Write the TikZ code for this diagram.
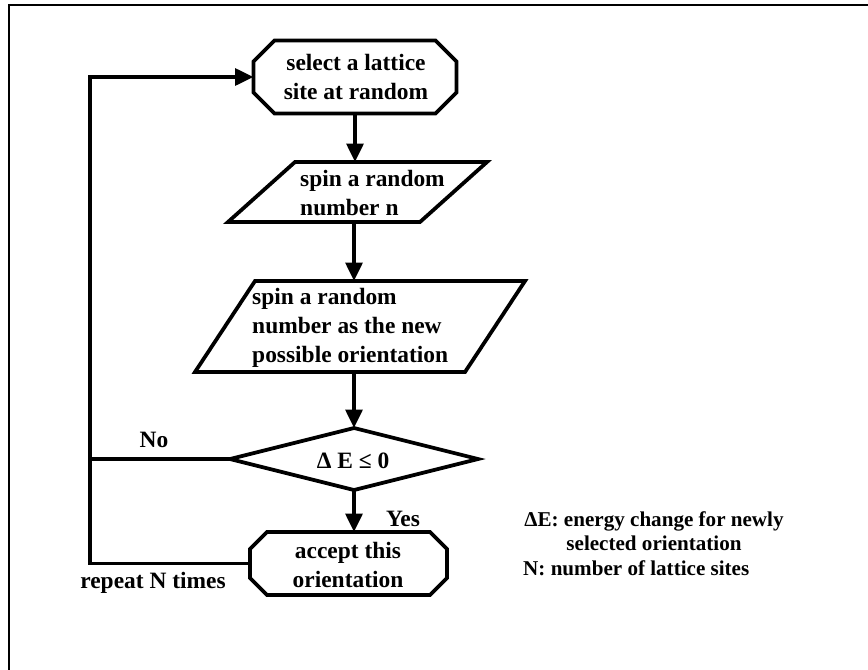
\documentclass[tikz,border=0pt]{standalone}
\usepackage{fontspec}
\setmainfont{Liberation Serif}
\usetikzlibrary{arrows.meta}
\newcommand\chambox[2]{\draw[flow] ([xshift=#2]#1.north west) -- ([xshift=-#2]#1.north east) -- ([yshift=-#2]#1.north east) -- ([yshift=#2]#1.south east) -- ([xshift=-#2]#1.south east) -- ([xshift=#2]#1.south west) -- ([yshift=#2]#1.south west) -- ([yshift=-#2]#1.north west) -- cycle;}
\newcommand\parabox[2]{\draw[flow] ([xshift=#2]#1.north west) -- (#1.north east) -- ([xshift=-#2]#1.south east) -- (#1.south west) -- cycle;}
\begin{document}
\begin{tikzpicture}[x=0.03cm,y=-0.03cm,
  flow/.style={line width=3.2pt},
  arr/.style={flow,-{Triangle[width=0.5cm,length=0.55cm]}},
  frame/.style={draw=none,inner sep=0pt,outer sep=0pt},
  txt/.style={font=\bfseries\fontsize{20}{24.5}\selectfont,align=center,inner sep=0pt},
  lbl/.style={font=\bfseries\fontsize{20}{24}\selectfont,inner sep=0pt},
  note/.style={font=\bfseries\fontsize{18}{21}\selectfont,inner sep=0pt}]
\path[use as bounding box] (0,0) rectangle (868,669);
\draw[line width=2.2pt] (9,675) -- (9,5) -- (875,5);

% shapes
\node[frame,minimum width=6.09cm,minimum height=2.19cm] (sel) at (355,77) {};
\chambox{sel}{0.63cm}
\node[txt] (selt) at (356,77) {select a lattice\\site at random};

\node[frame,minimum width=7.77cm,minimum height=1.8cm] (p1) at (357.5,192) {};
\parabox{p1}{2.01cm}
\node[txt,align=left,anchor=west] (p1t) at (300,193) {spin a random\\number n};

\node[frame,minimum width=9.9cm,minimum height=2.73cm] (p2) at (360,326.5) {};
\parabox{p2}{1.8cm}
\node[txt,align=left,anchor=west] (p2t) at (252,328) {spin a random\\number as the new\\possible orientation};

\node[frame,minimum width=7.44cm,minimum height=1.86cm] (dec) at (354,459) {};
\draw[flow] (dec.west) -- (dec.north) -- (dec.east) -- (dec.south) -- cycle;
\node[txt] (dect) at (353,461) {Δ E ≤ 0};

\node[frame,minimum width=5.91cm,minimum height=1.89cm] (acc) at (348.5,563.5) {};
\chambox{acc}{0.51cm}
\node[txt] (acct) at (348,565) {accept this\\orientation};

% connectors
\draw[arr] (sel.south) -- (sel.south |- p1.north);
\draw[arr] (p1.south -| dec.north) -- (p2.north -| dec.north);
\draw[arr] (p2.south -| dec.north) -- (dec.north);
\draw[arr] (dec.south) -- (dec.south |- acc.north);
\coordinate (lb) at (90,563.5);
\draw[arr] (acc.west) -- (lb) |- (sel.west);
\draw[flow] (dec.west) -- (dec.west -| lb);

% labels
\node[lbl] (no) at (154,440) {No};
\node[lbl] (yes) at (403,519) {Yes};
\node[lbl] (rep) at (153,583) {repeat N times};
\node[note,align=center] (n1) at (654,531) {ΔE: energy change for newly\\selected orientation};
\node[note,anchor=west] (n2) at (523,568) {N: number of lattice sites};
\end{tikzpicture}
\end{document}
